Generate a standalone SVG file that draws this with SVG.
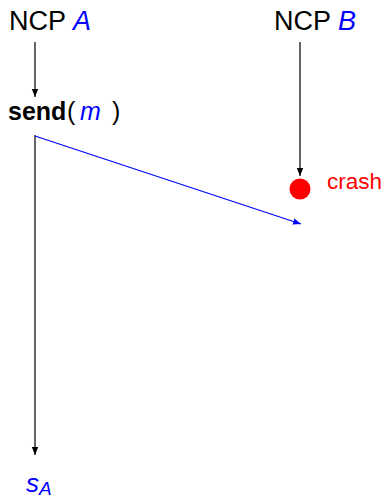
<svg xmlns="http://www.w3.org/2000/svg" width="390" height="500" viewBox="0 0 390 500">
<defs>
<style>
text{font-family:"Liberation Sans","DejaVu Sans",sans-serif;}
.b{fill:#0000ff;font-style:italic;}
.ln{stroke:#000;stroke-width:1.2;fill:none;}
</style>
<marker id="ak" viewBox="0 0 10 10" refX="10" refY="5" markerWidth="8" markerHeight="8" markerUnits="userSpaceOnUse" orient="auto"><path d="M0,1 L10,5 L0,9 z" fill="#000"/></marker>
<marker id="ab" viewBox="0 0 10 10" refX="10" refY="5" markerWidth="8" markerHeight="8" markerUnits="userSpaceOnUse" orient="auto"><path d="M0,1 L10,5 L0,9 z" fill="#0000ff"/></marker>
</defs>
<rect width="390" height="500" fill="#fff"/>
<g id="ncpA"><text x="9" y="30" font-size="27">NCP <tspan class="b">A</tspan></text></g>
<g id="ncpB"><text x="274" y="30" font-size="27">NCP <tspan class="b">B</tspan></text></g>
<g id="send"><text x="8" y="120" font-size="25"><tspan font-weight="bold">send</tspan><tspan x="67">(</tspan><tspan class="b" x="80">m</tspan><tspan x="112">)</tspan></text></g>
<g id="crash"><circle cx="300" cy="189" r="10.5" fill="#ff0000"/><text x="327" y="189" font-size="22.5" fill="#ff0000">crash</text></g>
<g id="sA"><text x="26" y="492" font-size="26" class="b">s<tspan font-size="19" dy="3">A</tspan></text></g>
<g id="connectors">
<line class="ln" x1="35" y1="42" x2="35" y2="97" marker-end="url(#ak)"/>
<line class="ln" x1="35" y1="135" x2="35" y2="455" marker-end="url(#ak)"/>
<line class="ln" x1="300" y1="42" x2="300" y2="176" marker-end="url(#ak)"/>
<line x1="35" y1="136" x2="301" y2="224" stroke="#0000ff" stroke-width="1.2" marker-end="url(#ab)"/>
</g>
</svg>
